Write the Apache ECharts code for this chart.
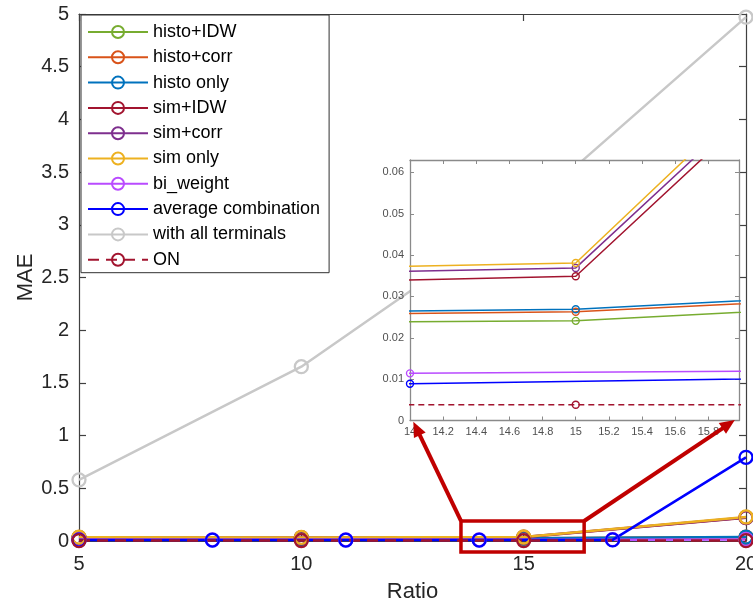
<!DOCTYPE html>
<html><head><meta charset="utf-8">
<script src="https://cdn.jsdelivr.net/npm/echarts@6/dist/echarts.min.js"></script>
<style>html,body{margin:0;padding:0;background:#fff}#c{width:753px;height:608px}</style>
</head><body><div id="c"></div>
<script>
// ---------- data ----------
const seriesNames = ['histo+IDW','histo+corr','histo only','sim+IDW','sim+corr','sim only','bi_weight','average combination','with all terminals','ON'];
const ratioMain  = [5, 10, 15, 20];
const ratioStep3 = [5, 8, 11, 14, 17, 20];
const histoIDW   = [0.022, 0.0231, 0.0241, 0.0344];
const histoCorr  = [0.024, 0.0243, 0.0263, 0.0359];
const histoOnly  = [0.025, 0.0249, 0.0269, 0.0371];
const simIDW     = [0.032, 0.0304, 0.0349, 0.221];
const simCorr    = [0.034, 0.0329, 0.0369, 0.223];
const simOnly    = [0.036, 0.0341, 0.0381, 0.228];
const biWeight   = [0.0110, 0.0111, 0.0112, 0.0114, 0.0122, 0.014];
const avgComb    = [0.0088, 0.0088, 0.0089, 0.0089, 0.0106, 0.794];
const allTerminals = [0.58, 1.654, 3.12, 4.97];
const onValues   = [0.0038, 0.0038, 0.0038, 0.0038];
const xName = 'Ratio', yName = 'MAE';
// zoom annotation (main data coords) and arrow targets (inset data coords)
const zoomBox = {x0: 13.59, x1: 16.36, y0: -0.104, y1: 0.19};
const arrowTargets = [[14.02, -0.0003], [15.96, 0.0001]];

// ---------- styling ----------
const F = 'Liberation Sans, Arial, sans-serif';
const colors = ['#77AC30','#D95319','#0072BD','#A2142F','#7E2F8E','#EDB120','#B94BFF','#0000FF','#C8C8C8','#A2142F'];
const xs = [ratioMain, ratioMain, ratioMain, ratioMain, ratioMain, ratioMain, ratioStep3, ratioStep3, ratioMain, ratioMain];
const ys = [histoIDW, histoCorr, histoOnly, simIDW, simCorr, simOnly, biWeight, avgComb, allTerminals, onValues];
const pairs = (a, b) => a.map((x, i) => [x, b[i]]);

const series = [];
seriesNames.forEach((n, i) => {
  const dashed = n === 'ON';
  series.push({
    type: 'line', name: n, data: pairs(xs[i], ys[i]), xAxisIndex: 0, yAxisIndex: 0,
    symbol: 'circle', symbolSize: 13, z: 2, animation: false,
    itemStyle: {color: 'rgba(255,255,255,0)', borderColor: colors[i], borderWidth: 2.3},
    lineStyle: {color: colors[i], width: 2.5, type: dashed ? [11, 7] : 'solid'}
  });
});
seriesNames.forEach((n, i) => {
  const dashed = n === 'ON';
  series.push({
    type: 'line', name: n, data: pairs(xs[i], ys[i]), xAxisIndex: 2, yAxisIndex: 2,
    symbol: 'circle', symbolSize: 7, z: 5, animation: false, clip: true,
    itemStyle: {color: 'rgba(255,255,255,0)', borderColor: colors[i], borderWidth: 1.4},
    lineStyle: {color: colors[i], width: 1.5, type: dashed ? [6, 4] : 'solid'}
  });
});

const mainLine = {show: true, onZero: false, lineStyle: {color: '#404040', width: 1.2}};
const mainTick = {show: true, inside: true, length: 7, lineStyle: {color: '#404040', width: 1.2}};
const insLine = {show: true, onZero: false, lineStyle: {color: '#8a8a8a', width: 1.3}};
const insTick = {show: true, inside: true, length: 4, lineStyle: {color: '#8a8a8a', width: 1}};
const insLabel = {show: true, color: '#505050', fontSize: 11, fontFamily: F, margin: 6, showMaxLabel: false};

const option = {
  backgroundColor: '#fff',
  animation: false,
  grid: [
    {left: 79, top: 14, width: 667, height: 527, show: false, containLabel: false, outerBoundsMode: 'none'},
    {left: 410, top: 160, width: 329, height: 260.5, show: true, backgroundColor: '#fff', borderWidth: 0, z: 3,
     containLabel: false, outerBoundsMode: 'none'}
  ],
  xAxis: [
    {type: 'value', gridIndex: 0, min: 5, max: 20, interval: 5, position: 'bottom',
     axisLine: mainLine, axisTick: mainTick, splitLine: {show: false},
     axisLabel: {color: '#262626', fontSize: 20, fontFamily: F, margin: 13},
     name: xName, nameLocation: 'middle', nameGap: 40, nameMoveOverlap: false,
     nameTextStyle: {color: '#262626', fontSize: 22, fontFamily: F}},
    {type: 'value', gridIndex: 0, min: 5, max: 20, interval: 5, position: 'top',
     axisLine: mainLine, axisTick: mainTick, splitLine: {show: false}, axisLabel: {show: false}},
    {type: 'value', gridIndex: 1, min: 14, max: 15.985, interval: 0.2, position: 'bottom', z: 4,
     axisLine: insLine, axisTick: insTick, splitLine: {show: false}, axisLabel: insLabel},
    {type: 'value', gridIndex: 1, min: 14, max: 15.985, interval: 0.2, position: 'top', z: 4,
     axisLine: insLine, axisTick: insTick, splitLine: {show: false}, axisLabel: {show: false}}
  ],
  yAxis: [
    {type: 'value', gridIndex: 0, min: 0, max: 5, interval: 0.5, position: 'left',
     axisLine: mainLine, axisTick: mainTick, splitLine: {show: false},
     axisLabel: {color: '#262626', fontSize: 20, fontFamily: F, margin: 10},
     name: yName, nameLocation: 'middle', nameGap: 42, nameRotate: 90, nameMoveOverlap: false,
     nameTextStyle: {color: '#262626', fontSize: 22, fontFamily: F}},
    {type: 'value', gridIndex: 0, min: 0, max: 5, interval: 0.5, position: 'right',
     axisLine: mainLine, axisTick: mainTick, splitLine: {show: false}, axisLabel: {show: false}},
    {type: 'value', gridIndex: 1, min: 0, max: 0.063, interval: 0.01, position: 'left', z: 4,
     axisLine: insLine, axisTick: insTick, splitLine: {show: false}, axisLabel: insLabel},
    {type: 'value', gridIndex: 1, min: 0, max: 0.063, interval: 0.01, position: 'right', z: 4,
     axisLine: insLine, axisTick: insTick, splitLine: {show: false}, axisLabel: {show: false}}
  ],
  legend: {
    data: seriesNames, orient: 'vertical', left: 81, top: 15, z: 10,
    padding: [8, 9, 4, 6], itemWidth: 60, itemHeight: 15, itemGap: 7.3,
    backgroundColor: '#fff', borderColor: '#303030', borderWidth: 1,
    textStyle: {color: '#000', fontSize: 18, fontFamily: F, lineHeight: 18},
    selectedMode: false
  },
  series: series
};

const chart = echarts.init(document.getElementById('c'), null, {renderer: 'canvas'});
chart.setOption(option);

// zoom annotation: rectangle + arrows positioned through the axes
const pm = v => chart.convertToPixel({xAxisIndex: 0, yAxisIndex: 0}, v);
const pi = v => chart.convertToPixel({xAxisIndex: 2, yAxisIndex: 2}, v);
const tl = pm([zoomBox.x0, zoomBox.y1]), br = pm([zoomBox.x1, zoomBox.y0]);
const tr = [br[0], tl[1]];
const RED = '#C00000';
function arrow(from, to) {
  const dx = to[0] - from[0], dy = to[1] - from[1], L = Math.hypot(dx, dy);
  const ux = dx / L, uy = dy / L, hl = 15, hw = 6.5;
  const b = [to[0] - ux * hl, to[1] - uy * hl];
  return [
    {type: 'line', z: 100, shape: {x1: from[0], y1: from[1], x2: b[0] + ux * 2, y2: b[1] + uy * 2},
     style: {stroke: RED, lineWidth: 4}},
    {type: 'polygon', z: 100, shape: {points: [to, [b[0] - uy * hw, b[1] + ux * hw], [b[0] + uy * hw, b[1] - ux * hw]]},
     style: {fill: RED}}
  ];
}
const elements = [
  {type: 'rect', z: 100, shape: {x: tl[0], y: tl[1], width: br[0] - tl[0], height: br[1] - tl[1]},
   style: {fill: 'none', stroke: RED, lineWidth: 3.5}}
].concat(arrow(tl, pi(arrowTargets[0]))).concat(arrow(tr, pi(arrowTargets[1])));
chart.setOption({graphic: {elements: elements}});
</script>
</body></html>
